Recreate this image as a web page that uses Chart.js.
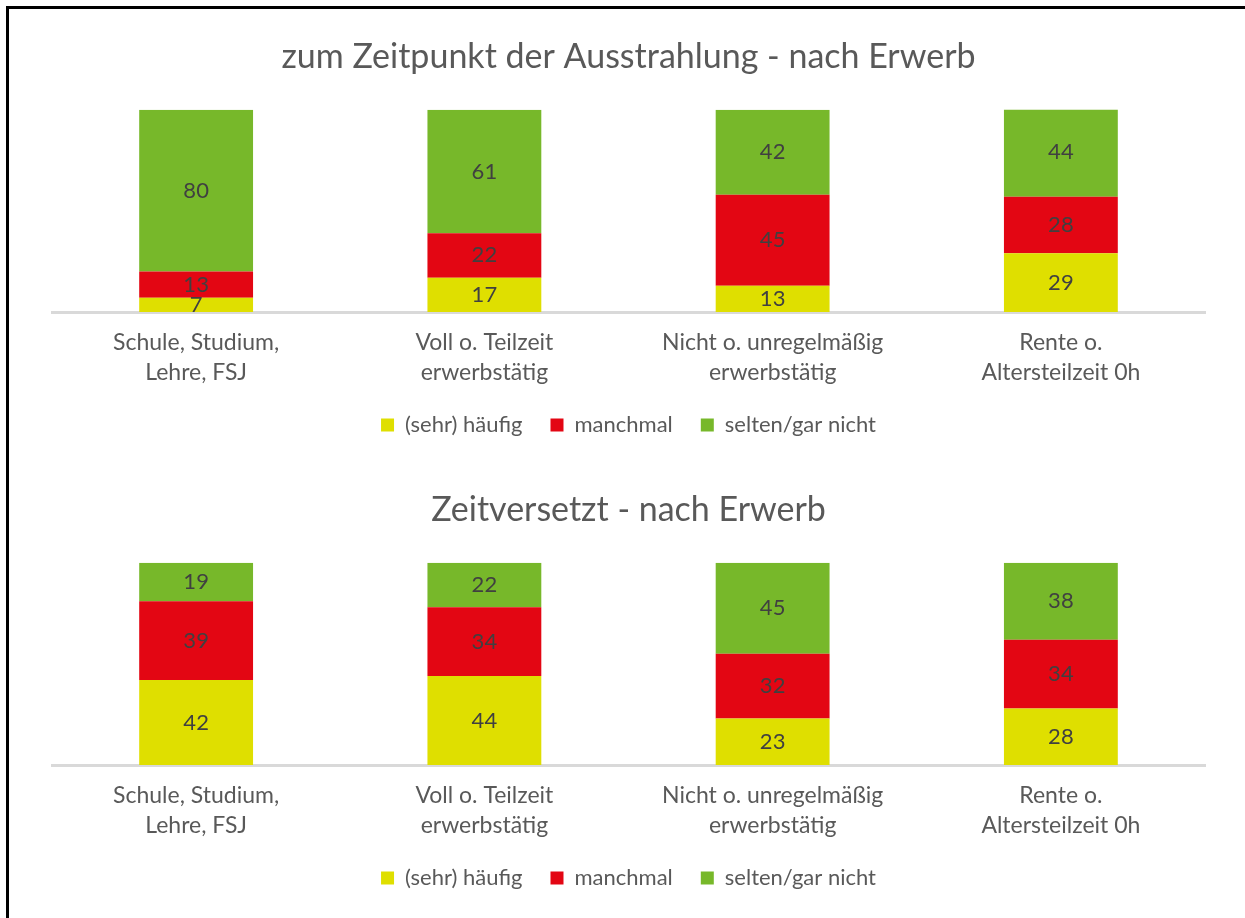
<!DOCTYPE html>
<html>
<head>
<meta charset="utf-8">
<script src="https://cdn.jsdelivr.net/npm/chart.js@4.4.0/dist/chart.umd.min.js"></script>
<style>
    html, body { margin: 0; padding: 0; background: #fff; }
    #wrap { position: relative; width: 1245px; height: 918px; overflow: hidden; }
    #frame { position: absolute; left: 6px; top: 6px; width: 1300px; height: 1000px;
             border-top: 3px solid #000; border-left: 3px solid #000; box-sizing: border-box; }
    .box { position: absolute; left: 0; width: 1245px; height: 459px; }
    #box1 { top: 0; }
    #box2 { top: 459px; }
</style>
</head>
<body>
<div id="wrap">
    <div class="box" id="box1"><canvas id="chart1"></canvas></div>
    <div class="box" id="box2"><canvas id="chart2"></canvas></div>
    <div id="frame"></div>
</div>
<script>
// Kategorien
const categories = [
    ['Schule, Studium,', 'Lehre, FSJ'],
    ['Voll o. Teilzeit', 'erwerbstätig'],
    ['Nicht o. unregelmäßig', 'erwerbstätig'],
    ['Rente o.', 'Altersteilzeit 0h']
];
const seriesNames = ['(sehr) häufig', 'manchmal', 'selten/gar nicht'];
const seriesColors = ['#dfdf00', '#e30613', '#77b82a'];

// zum Zeitpunkt der Ausstrahlung
const haeufigLive = [7, 17, 13, 29];
const manchmalLive = [13, 22, 45, 28];
const seltenLive = [80, 61, 42, 44];

// Zeitversetzt
const haeufigZv = [42, 44, 23, 28];
const manchmalZv = [39, 34, 32, 34];
const seltenZv = [19, 22, 45, 38];

const fontFamily = 'Lato, "Open Sans", sans-serif';

// Werte in die Mitte der Segmente schreiben
const valueLabels = {
    id: 'valueLabels',
    afterDatasetsDraw(chart) {
        const ctx = chart.ctx;
        ctx.save();
        ctx.font = '22px ' + fontFamily;
        ctx.fillStyle = '#404040';
        ctx.textAlign = 'center';
        ctx.textBaseline = 'middle';
        chart.data.datasets.forEach(function (ds, i) {
            chart.getDatasetMeta(i).data.forEach(function (bar, j) {
                const mid = (bar.y + bar.base) / 2;
                ctx.fillText(ds.data[j], bar.x, mid);
            });
        });
        ctx.restore();
    }
};

function makeChart(id, title, values, titleTop, padBottom) {
    const datasets = values.map(function (v, i) {
        return {
            label: seriesNames[i],
            data: v,
            backgroundColor: seriesColors[i],
            borderWidth: 0,
            categoryPercentage: 1,
            barPercentage: 0.395
        };
    });
    return new Chart(document.getElementById(id), {
        type: 'bar',
        data: { labels: categories, datasets: datasets },
        plugins: [valueLabels],
        options: {
            responsive: true,
            maintainAspectRatio: false,
            animation: false,
            layout: { padding: { left: 52, right: 40, top: 0, bottom: padBottom } },
            plugins: {
                title: {
                    display: true,
                    text: title,
                    color: '#595959',
                    font: { family: fontFamily, size: 34, weight: 'normal', lineHeight: 1.2 },
                    padding: { top: titleTop, bottom: 32 }
                },
                legend: {
                    position: 'bottom',
                    labels: {
                        color: '#595959',
                        font: { family: fontFamily, size: 22 },
                        boxWidth: 13,
                        boxHeight: 13,
                        padding: 28
                    }
                },
                tooltip: { enabled: false }
            },
            scales: {
                x: {
                    stacked: true,
                    grid: { display: false, drawTicks: false },
                    border: { display: true, color: '#d9d9d9', width: 3 },
                    ticks: {
                        color: '#595959',
                        font: { family: fontFamily, size: 23, lineHeight: 1.3 },
                        padding: 16,
                        maxRotation: 0
                    },
                    afterFit: function (scale) {
                        scale.height = 74;
                    }
                },
                y: {
                    stacked: true,
                    display: false,
                    min: 0,
                    max: 100
                }
            }
        }
    });
}

makeChart('chart1', 'zum Zeitpunkt der Ausstrahlung - nach Erwerb',
    [haeufigLive, manchmalLive, seltenLive], 37, 13);
makeChart('chart2', 'Zeitversetzt - nach Erwerb',
    [haeufigZv, manchmalZv, seltenZv], 31, 19);
</script>
</body>
</html>
